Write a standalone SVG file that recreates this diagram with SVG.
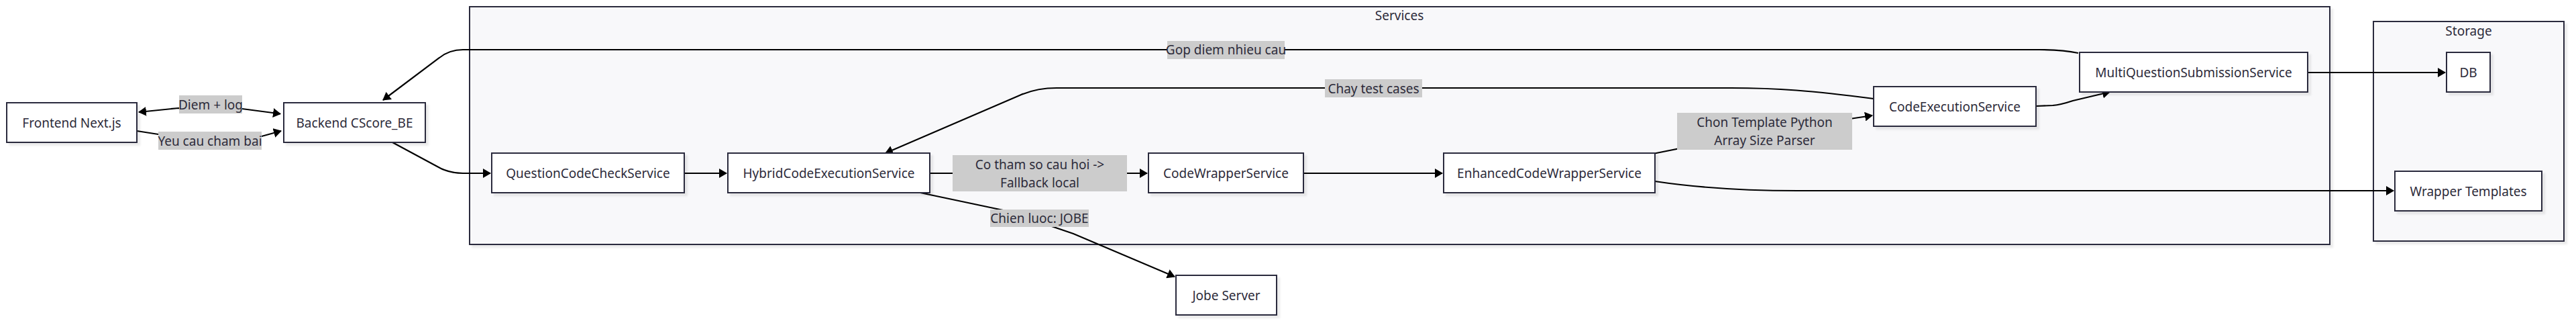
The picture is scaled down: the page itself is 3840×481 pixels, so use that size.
<svg xmlns="http://www.w3.org/2000/svg" width="3840" height="481" viewBox="0 0 3840 481">
<defs>
<filter id="sh" x="-10%" y="-10%" width="130%" height="140%">
<feDropShadow dx="4" dy="4" stdDeviation="1.5" flood-color="#000" flood-opacity="0.08"/>
</filter>
<marker id="arr" viewBox="0 0 12 14" refX="11" refY="7" markerWidth="12" markerHeight="14" markerUnits="userSpaceOnUse" orient="auto-start-reverse">
<path d="M0,0 L12,7 L0,14 z" fill="#000"/>
</marker>
</defs>
<style>
text{font-family:"Noto Sans","Open Sans","Liberation Sans",sans-serif;font-size:19px;fill:#2d2b3a;text-anchor:middle;dominant-baseline:central}
.node rect{fill:#fff;stroke:#2b2a3d;stroke-width:2;filter:url(#sh)}
.cluster rect{fill:#f8f8fa;stroke:#2b2a3d;stroke-width:2;filter:url(#sh)}
.edge{fill:none;stroke:#000;stroke-width:2.2}
.lbl rect{fill:#cccccc}
</style>
<rect width="3840" height="481" fill="#fff"/>
<g id="cluster-services" class="cluster"><rect x="700" y="10" width="2773" height="354"/><text x="2086" y="23">Services</text></g>
<g id="cluster-storage" class="cluster"><rect x="3538" y="32" width="284" height="327"/><text x="3680" y="46">Storage</text></g>

<g id="connectors">
<path class="edge" d="M207,167 L266,161 L361,162 L418,169.5" marker-start="url(#arr)" marker-end="url(#arr)"/>
<path class="edge" d="M204,195 L236,200 L390,203 L419,195" marker-end="url(#arr)"/>
<path class="edge" d="M585,212 L650,247 Q668,258 690,258 L731,258" marker-end="url(#arr)"/>
<path class="edge" d="M1020,258 L1083,258" marker-end="url(#arr)"/>
<path class="edge" d="M1386,258 L1710,258" marker-end="url(#arr)"/>
<path class="edge" d="M1372,287 L1500,314 L1600,348 L1751,412" marker-end="url(#arr)"/>
<path class="edge" d="M1943,258 L2150,258" marker-end="url(#arr)"/>
<path class="edge" d="M2464,229 L2630,196 L2791,172" marker-end="url(#arr)"/>
<path class="edge" d="M2793,147 C2700,135 2650,131 2580,131 L1575,131 Q1545,131 1520,142 L1320,228" marker-end="url(#arr)"/>
<path class="edge" d="M3098,79 Q3075,74 3040,74 L690,74 Q670,74 655,86 L571,149" marker-end="url(#arr)"/>
<path class="edge" d="M3035,158 L3060,157 Q3072,156 3090,150 L3145,137" marker-end="url(#arr)"/>
<path class="edge" d="M3440,108 L3645,108" marker-end="url(#arr)"/>
<path class="edge" d="M2467,270 Q2560,284 2680,284 L3568,284" marker-end="url(#arr)"/>
<g class="lbl">
<rect x="267" y="142" width="94" height="27"/><text x="314" y="155.5">Diem + log</text>
<rect x="236" y="196" width="154" height="27"/><text x="313" y="209.5">Yeu cau cham bai</text>
<rect x="1420" y="231" width="260" height="54"/><text x="1550" y="244.5">Co tham so cau hoi -&gt;</text><text x="1550" y="271.5">Fallback local</text>
<rect x="1476" y="312" width="147" height="26"/><text x="1549.5" y="325">Chien luoc: JOBE</text>
<rect x="2500" y="168" width="261" height="55"/><text x="2630.5" y="182">Chon Template Python</text><text x="2630.5" y="209">Array Size Parser</text>
<rect x="1975" y="118" width="145" height="27"/><text x="2047.5" y="131.5">Chay test cases</text>
<rect x="1740" y="61" width="175" height="27"/><text x="1827.5" y="74">Gop diem nhieu cau</text>
</g>
</g>

<g id="frontend" class="node"><rect x="10" y="153" width="194" height="59"/><text x="107" y="182.5">Frontend Next.js</text></g>
<g id="backend" class="node"><rect x="423" y="153" width="211" height="59"/><text x="528.5" y="182.5">Backend CScore_BE</text></g>
<g id="qcc" class="node"><rect x="733" y="228" width="287" height="59"/><text x="876.5" y="257.5">QuestionCodeCheckService</text></g>
<g id="hybrid" class="node"><rect x="1085" y="228" width="301" height="59"/><text x="1235.5" y="257.5">HybridCodeExecutionService</text></g>
<g id="codewrapper" class="node"><rect x="1712" y="228" width="231" height="59"/><text x="1827.5" y="257.5">CodeWrapperService</text></g>
<g id="enhanced" class="node"><rect x="2152" y="228" width="315" height="59"/><text x="2309.5" y="257.5">EnhancedCodeWrapperService</text></g>
<g id="codeexec" class="node"><rect x="2793" y="129" width="242" height="59"/><text x="2914" y="158.5">CodeExecutionService</text></g>
<g id="mqs" class="node"><rect x="3100" y="78" width="340" height="59"/><text x="3270" y="107.5">MultiQuestionSubmissionService</text></g>
<g id="jobe" class="node"><rect x="1753" y="410" width="150" height="59"/><text x="1828" y="439.5">Jobe Server</text></g>
<g id="db" class="node"><rect x="3647" y="78" width="65" height="59"/><text x="3679.5" y="107.5">DB</text></g>
<g id="wrappertemplates" class="node"><rect x="3570" y="255" width="219" height="59"/><text x="3679.5" y="284.5">Wrapper Templates</text></g>
</svg>
